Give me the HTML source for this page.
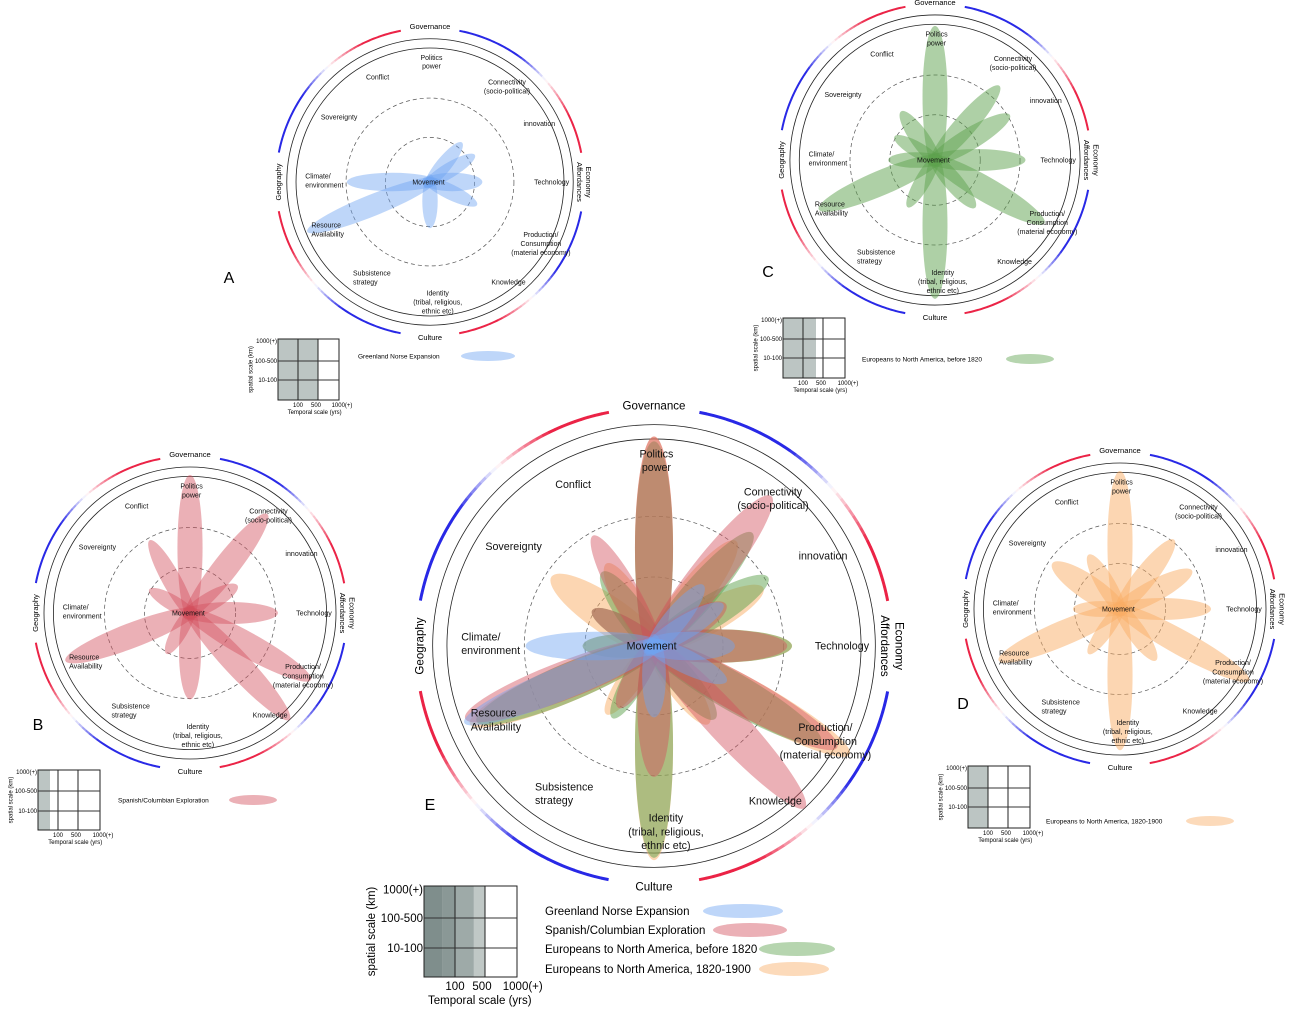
<!DOCTYPE html>
<html><head><meta charset="utf-8"><style>
html,body{margin:0;padding:0;background:#fff;}
svg{display:block;font-family:"Liberation Sans",sans-serif;}
</style></head><body>
<svg id="s" width="1291" height="1009" viewBox="0 0 1291 1009" xmlns="http://www.w3.org/2000/svg"></svg>
<script>
const S=document.getElementById('s');let out='';
const BLUE=[40,40,230],RED=[235,35,70],WH=[255,255,255];
function mix(a,b,t){return 'rgb('+a.map((v,i)=>Math.round(v+(b[i]-v)*t)).join(',')+')';}
function col(t){if(t<0.35)return mix(BLUE,BLUE,0);if(t<0.55)return mix(BLUE,WH,(t-0.35)/0.2);if(t<0.78)return mix(WH,RED,(t-0.55)/0.23);return mix(RED,RED,0);}
function P(cx,cy,r,a){a=a*Math.PI/180;return [cx+r*Math.sin(a),cy-r*Math.cos(a)];}
const LBL=[
 [["Politics","power"],0.01,-0.78,'middle'],
 [["Conflict"],-0.34,-0.68,'middle'],
 [["Connectivity","(socio-political)"],0.50,-0.62,'middle'],
 [["Sovereignty"],-0.59,-0.42,'middle'],
 [["innovation"],0.71,-0.38,'middle'],
 [["Climate/","environment"],-0.81,-0.01,'start'],
 [["Technology"],0.79,0,'middle'],
 [["Resource","Availability"],-0.77,0.31,'start'],
 [["Production/","Consumption","(material economy)"],0.72,0.40,'middle'],
 [["Subsistence","strategy"],-0.50,0.62,'start'],
 [["Knowledge"],0.51,0.65,'middle'],
 [["Identity","(tribal, religious,","ethnic etc)"],0.05,0.78,'middle'],
 [["Movement"],-0.01,0,'middle']];
const DS={
 blue:{c:'#6fa3f2',o:0.45,p:[[270,0.54,0.06],[90,0.34,0.06],[248,0.86,0.07],[180,0.30,0.05],[39,0.33,0.05],[59,0.34,0.05],[116,0.34,0.05]]},
 red:{c:'#d2505e',o:0.45,p:[[0,0.88,0.08],[38,0.80,0.08],[90,0.56,0.07],[119,0.88,0.08],[137,0.93,0.08],[180,0.55,0.07],[249,0.85,0.08],[331,0.53,0.06],[60,0.35,0.06],[210,0.3,0.05],[300,0.3,0.05]]},
 green:{c:'#5ea24e',o:0.5,p:[[0,0.86,0.08],[180,0.89,0.08],[41,0.63,0.07],[59,0.56,0.07],[90,0.58,0.07],[120,0.81,0.08],[140,0.40,0.06],[247,0.81,0.08],[325,0.38,0.06],[210,0.35,0.05],[300,0.30,0.05],[270,0.3,0.05]]},
 orange:{c:'#f9ad66',o:0.5,p:[[0,0.88,0.08],[180,0.90,0.08],[38,0.56,0.07],[62,0.52,0.07],[90,0.58,0.07],[119,0.94,0.08],[247,0.84,0.08],[304,0.52,0.08],[330,0.40,0.06],[145,0.40,0.06],[215,0.35,0.05],[270,0.3,0.05]]}
};
function chart(cx,cy,R,sets,sw){
 const g=11;
 for(let q=0;q<4;q++){const a0=q*90+g,a1=(q+1)*90-g,n=40;
  for(let i=0;i<n;i++){const s=a0+(a1-a0)*i/n,e=a0+(a1-a0)*(i+1.05)/n;const p1=P(cx,cy,R,s),p2=P(cx,cy,R,e);
   out+=`<path d="M${p1[0].toFixed(2)},${p1[1].toFixed(2)} A${R},${R} 0 0 1 ${p2[0].toFixed(2)},${p2[1].toFixed(2)}" stroke="${col((i+0.5)/n)}" stroke-width="${sw}" fill="none"/>`;}}
 out+=`<circle cx="${cx}" cy="${cy}" r="${R*0.93}" fill="none" stroke="#222" stroke-width="0.8"/>`;
 out+=`<circle cx="${cx}" cy="${cy}" r="${R*0.87}" fill="none" stroke="#222" stroke-width="0.8"/>`;
 out+=`<circle cx="${cx}" cy="${cy}" r="${R*0.545}" fill="none" stroke="#555" stroke-width="0.7" stroke-dasharray="4,3"/>`;
 out+=`<circle cx="${cx}" cy="${cy}" r="${R*0.29}" fill="none" stroke="#555" stroke-width="0.7" stroke-dasharray="4,3"/>`;
 for(const k of sets){const d=DS[k];for(const p of d.p){const L=p[1],b=0.05;const rx=(L+b)/2*R,dd=(L-b)/2*R;
  out+=`<ellipse cx="0" cy="${(-dd).toFixed(2)}" rx="${(p[2]*R).toFixed(2)}" ry="${rx.toFixed(2)}" transform="translate(${cx},${cy}) rotate(${p[0]})" fill="${d.c}" fill-opacity="${d.o}"/>`;}}
 const fs=R*0.045;
 for(const l of LBL){const x=cx+l[1]*R,y=cy+l[2]*R;const n=l[0].length;const lh=fs*1.28;
  let y0=y-(n-1)*lh/2+fs*0.35;
  l[0].forEach((t,i)=>{out+=`<text x="${x.toFixed(1)}" y="${(y0+i*lh).toFixed(1)}" font-size="${fs.toFixed(2)}" text-anchor="${l[3]}" fill="#111">${t}</text>`;});}
 const f2=fs*1.08;
 out+=`<text x="${cx}" y="${cy-R*1.01+f2*0.35}" font-size="${f2}" text-anchor="middle">Governance</text>`;
 out+=`<text x="${cx}" y="${cy+R*1.01+f2*0.35}" font-size="${f2}" text-anchor="middle">Culture</text>`;
 out+=`<text transform="translate(${cx-R*0.985},${cy}) rotate(-90)" y="${f2*0.35}" font-size="${f2}" text-anchor="middle">Geography</text>`;
 out+=`<text transform="translate(${cx+R*1.0},${cy}) rotate(90)" font-size="${f2}" text-anchor="middle"><tspan x="0" y="${-f2*0.3}">Economy</tspan><tspan x="0" y="${f2*0.95}">Affordances</tspan></text>`;
}
chart(430,182,154,['blue'],2);
chart(935,160,156,['green'],2);
chart(190,613,157,['red'],2);
chart(1120,609,157,['orange'],2);
chart(654,646,238,['orange','green','red','blue'],3);
[['A',229,283,16],['C',768,277,16],['B',38,730,16],['D',963,709,16],['E',430,810,16]].forEach(a=>{out+=`<text x="${a[1]}" y="${a[2]}" font-size="${a[3]}" text-anchor="middle">${a[0]}</text>`;});
function legend(x,y,w,h,c1,c2,r1,r2,gray,fs,grad){
 if(grad){out+=`<rect x="${x}" y="${y}" width="${(c1-x)*0.6}" height="${h}" fill="#7f8e8c"/><rect x="${x+(c1-x)*0.6}" y="${y}" width="${(c1-x)*0.4}" height="${h}" fill="#8a9896"/><rect x="${c1}" y="${y}" width="${(c2-c1)*0.63}" height="${h}" fill="#9eaaa8"/><rect x="${c1+(c2-c1)*0.63}" y="${y}" width="${(c2-c1)*0.37}" height="${h}" fill="#c0c8c6"/>`;}
 else if(gray>x) out+=`<rect x="${x}" y="${y}" width="${gray-x}" height="${h}" fill="#bcc5c3"/>`;
 out+=`<rect x="${x}" y="${y}" width="${w}" height="${h}" fill="none" stroke="#222" stroke-width="1"/>`;
 out+=`<line x1="${c1}" y1="${y}" x2="${c1}" y2="${y+h}" stroke="#222"/><line x1="${c2}" y1="${y}" x2="${c2}" y2="${y+h}" stroke="#222"/>`;
 out+=`<line x1="${x}" y1="${r1}" x2="${x+w}" y2="${r1}" stroke="#333"/><line x1="${x}" y1="${r2}" x2="${x+w}" y2="${r2}" stroke="#333"/>`;
 const t=(tx,ty,s,a)=>{out+=`<text x="${tx}" y="${ty+fs*0.35}" font-size="${fs}" text-anchor="${a||'end'}">${s}</text>`;};
 t(x-1,y+fs*0.3,'1000(+)');t(x-1,r1,'100-500');t(x-1,r2,'10-100');
 const by=y+h+fs*0.8;
 t(c1,by,'100','middle');t(c2-(c2-c1)*0.1,by,'500','middle');t(x+w+fs*0.5,by,'1000(+)','middle');
 t(x+w*0.6,by+fs*1.2,'Temporal scale (yrs)','middle');
 out+=`<text transform="translate(${x-fs*4.6},${y+h*0.5}) rotate(-90)" y="${fs*0.35}" font-size="${fs}" text-anchor="middle">spatial scale (km)</text>`;
}
legend(278,339,61,61,298,318,361,380,318,6);
legend(783,318,62,60,803,823,339,358,816,6);
legend(38,770,62,60,58,78,791,811,50,6);
legend(968,766,62,62,988,1008,788,807,988,6);
legend(424,886,93,91,455,485,918,948,485,11.5,true);
const le=(x,y,s,fs,ex,rx,ry,c)=>{out+=`<text x="${x}" y="${y+fs*0.35}" font-size="${fs}">${s}</text><ellipse cx="${ex}" cy="${y}" rx="${rx}" ry="${ry}" fill="${c}" fill-opacity="0.45"/>`;};
le(358,356,'Greenland Norse Expansion',6.5,488,27,5,'#6fa3f2');
le(862,359,'Europeans to North America, before 1820',6.5,1030,24,5,'#5ea24e');
le(118,800,'Spanish/Columbian Exploration',6.5,253,24,5,'#d2505e');
le(1046,821,'Europeans to North America, 1820-1900',6.5,1210,24,5,'#f9ad66');
le(545,911,'Greenland Norse Expansion',11.5,743,40,7,'#6fa3f2');
le(545,930,'Spanish/Columbian Exploration',11.5,750,37,7,'#d2505e');
le(545,949,'Europeans to North America, before 1820',11.5,797,38,7,'#5ea24e');
le(545,969,'Europeans to North America, 1820-1900',11.5,794,35,7,'#f9ad66');
S.innerHTML=out;
</script>
</body></html>
